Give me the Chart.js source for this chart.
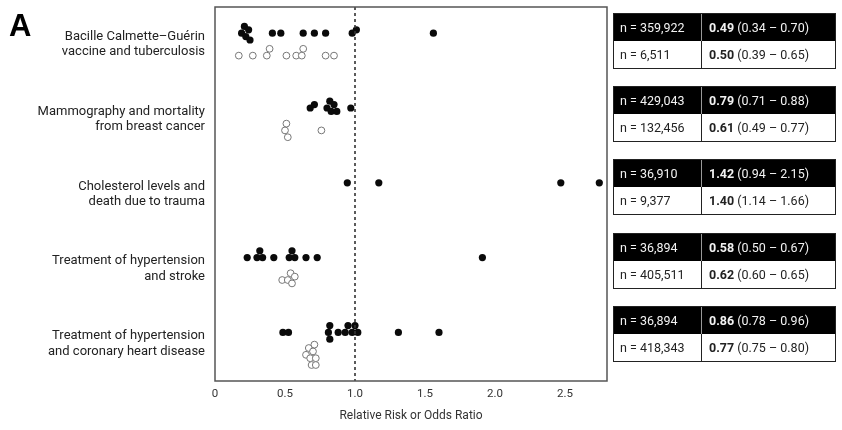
<!DOCTYPE html>
<html><head><meta charset="utf-8">
<script src="https://cdn.jsdelivr.net/npm/chart.js@4.4.1/dist/chart.umd.min.js"></script>
<style>
html,body{margin:0;padding:0;background:#fff;}
#wrap{position:relative;width:842px;height:430px;overflow:hidden;}
#c{position:absolute;left:0;top:0;}
.tbl{position:absolute;left:613px;width:223px;border:1.5px solid #222;box-sizing:border-box;font-family:Roboto,"Liberation Sans",sans-serif;font-size:12.5px;}
.r{display:flex;height:27px;line-height:27px;color:#222;}
.r.h{background:#000;color:#f2f2f2;}
.c1{width:88px;padding-left:6px;box-sizing:border-box;border-right:1.5px solid #222;}
.h .c1{border-right-color:#999;}
.c2{padding-left:7px;}
.c2 b{font-weight:bold;}
#A{position:absolute;left:9px;top:8px;font:bold 31px "Liberation Sans",Arial,sans-serif;color:#000;}
</style></head>
<body>
<div id="wrap">
<canvas id="c" width="842" height="430"></canvas>
<div id="A">A</div>
</div>
<script>
// ---- data ----
const categories = [
  ["Bacille Calmette\u2013Gu\u00e9rin", "vaccine and tuberculosis"],
  ["Mammography and mortality", "from breast cancer"],
  ["Cholesterol levels and", "death due to trauma"],
  ["Treatment of hypertension", "and stroke"],
  ["Treatment of hypertension", "and coronary heart disease"]
];
const randomizedValues = [
  [0.19, 0.21, 0.22, 0.24, 0.25, 0.41, 0.47, 0.63, 0.71, 0.79, 0.98, 1.01, 1.56],
  [0.68, 0.71, 0.80, 0.82, 0.83, 0.85, 0.87, 0.97],
  [0.945, 1.17, 2.47, 2.745],
  [0.23, 0.30, 0.32, 0.34, 0.42, 0.53, 0.55, 0.57, 0.65, 0.73, 1.91],
  [0.485, 0.525, 0.81, 0.82, 0.82, 0.88, 0.93, 0.95, 0.98, 1.0, 1.02, 1.31, 1.60]
];
const observationalValues = [
  [0.17, 0.27, 0.37, 0.39, 0.51, 0.58, 0.62, 0.63, 0.79, 0.85],
  [0.50, 0.51, 0.52, 0.76],
  [],
  [0.48, 0.52, 0.54, 0.55, 0.57],
  [0.65, 0.67, 0.68, 0.69, 0.70, 0.71, 0.72, 0.72]
];
const xTickValues = [0, 0.5, 1.0, 1.5, 2.0, 2.5];
const xTitle = "Relative Risk or Odds Ratio";
const nRandomized = ["359,922", "429,043", "36,910", "36,894", "36,894"];
const nObservational = ["6,511", "132,456", "9,377", "405,511", "418,343"];
const estRandomized = ["0.49", "0.79", "1.42", "0.58", "0.86"];
const ciRandomized = ["0.34 \u2013 0.70", "0.71 \u2013 0.88", "0.94 \u2013 2.15", "0.50 \u2013 0.67", "0.78 \u2013 0.96"];
const estObservational = ["0.50", "0.61", "1.40", "0.62", "0.77"];
const ciObservational = ["0.39 \u2013 0.65", "0.49 \u2013 0.77", "1.14 \u2013 1.66", "0.60 \u2013 0.65", "0.75 \u2013 0.80"];

// ---- beeswarm-style dodge so overlapping dots spread vertically ----
const PX_PER_X = 139.4, PX_PER_Y = 74.8, MIN_D = 4.6, STEP = 3.4;
function swarm(rows, offset) {
  const pts = [];
  rows.forEach((vals, i) => {
    const base = i + 0.5 + offset;
    const placed = [];
    vals.slice().sort((a, b) => a - b).forEach(v => {
      for (const k of [0, -1, 1, -2, 2, -3, 3]) {
        const yPx = k * STEP;
        const ok = placed.every(p => {
          const dx = (v - p.x) * PX_PER_X, dy = yPx - p.yPx;
          return dx * dx + dy * dy >= MIN_D * MIN_D;
        });
        if (ok || k === 3) {
          placed.push({ x: v, yPx });
          pts.push({ x: v, y: base + yPx / PX_PER_Y });
          break;
        }
      }
    });
  });
  return pts;
}

// ---- tables ----
const wrap = document.getElementById('wrap');
categories.forEach((c, i) => {
  const t = document.createElement('div');
  t.className = 'tbl';
  t.style.top = (13 + i * 73.2) + 'px';
  t.innerHTML =
    '<div class="r h"><div class="c1">n = ' + nRandomized[i] + '</div><div class="c2"><b>' + estRandomized[i] + '</b> (' + ciRandomized[i] + ')</div></div>' +
    '<div class="r"><div class="c1">n = ' + nObservational[i] + '</div><div class="c2"><b>' + estObservational[i] + '</b> (' + ciObservational[i] + ')</div></div>';
  wrap.appendChild(t);
});

const framePlugin = {
  id: 'frame',
  afterDatasetsDraw(chart) {
    const { ctx, chartArea: a, scales } = chart;
    ctx.save();
    const x1 = scales.x.getPixelForValue(1);
    ctx.strokeStyle = '#333';
    ctx.lineWidth = 1.6;
    ctx.setLineDash([3, 3]);
    ctx.beginPath();
    ctx.moveTo(x1, a.top);
    ctx.lineTo(x1, a.bottom);
    ctx.stroke();
    ctx.setLineDash([]);
    ctx.strokeStyle = '#555';
    ctx.lineWidth = 1.5;
    ctx.strokeRect(a.left, a.top, a.right - a.left, a.bottom - a.top);
    ctx.restore();
  }
};

new Chart(document.getElementById('c'), {
  type: 'scatter',
  data: {
    datasets: [
      {
        label: 'Observational',
        data: swarm(observationalValues, 0.15),
        pointRadius: 3.4,
        pointBackgroundColor: '#fff',
        pointBorderColor: '#777',
        pointBorderWidth: 1,
        pointHoverRadius: 3.4
      },
      {
        label: 'Randomized',
        data: swarm(randomizedValues, -0.15),
        pointRadius: 3.6,
        pointBackgroundColor: '#0a0a0a',
        pointBorderColor: '#0a0a0a',
        pointBorderWidth: 0,
        pointHoverRadius: 3.6
      }
    ]
  },
  options: {
    responsive: false,
    animation: false,
    layout: { padding: { top: 7, right: 235, left: 0, bottom: 0 } },
    plugins: { legend: { display: false }, tooltip: { enabled: false } },
    scales: {
      x: {
        type: 'linear', min: 0, max: 2.8,
        grid: { display: false, drawTicks: false },
        border: { display: false },
        afterBuildTicks: s => { s.ticks = xTickValues.map(v => ({ value: v })); },
        afterFit: s => { s.height = 49; s.paddingLeft = 0; s.paddingRight = 0; },
        ticks: {
          padding: 6,
          color: '#333',
          font: { family: 'Roboto', size: 11.5 },
          maxRotation: 0,
          callback: v => (v === 0 ? '0' : Number(v).toFixed(1))
        },
        title: {
          display: true, text: xTitle, color: '#333',
          font: { family: 'Roboto', size: 12 },
          padding: { top: 4, bottom: 7 }
        }
      },
      y: {
        type: 'linear', min: 0, max: 5, reverse: true,
        grid: { display: false, drawTicks: false },
        border: { display: false },
        afterBuildTicks: s => { s.ticks = categories.map((c, i) => ({ value: i + 0.5 })); },
        afterFit: s => { s.width = 215; s.paddingTop = 0; s.paddingBottom = 0; },
        ticks: {
          padding: 10,
          color: '#222',
          autoSkip: false,
          font: { family: 'Roboto', size: 13, lineHeight: 1.18 },
          callback: v => categories[Math.round(v - 0.5)]
        }
      }
    }
  },
  plugins: [framePlugin]
});
</script>
</body></html>
